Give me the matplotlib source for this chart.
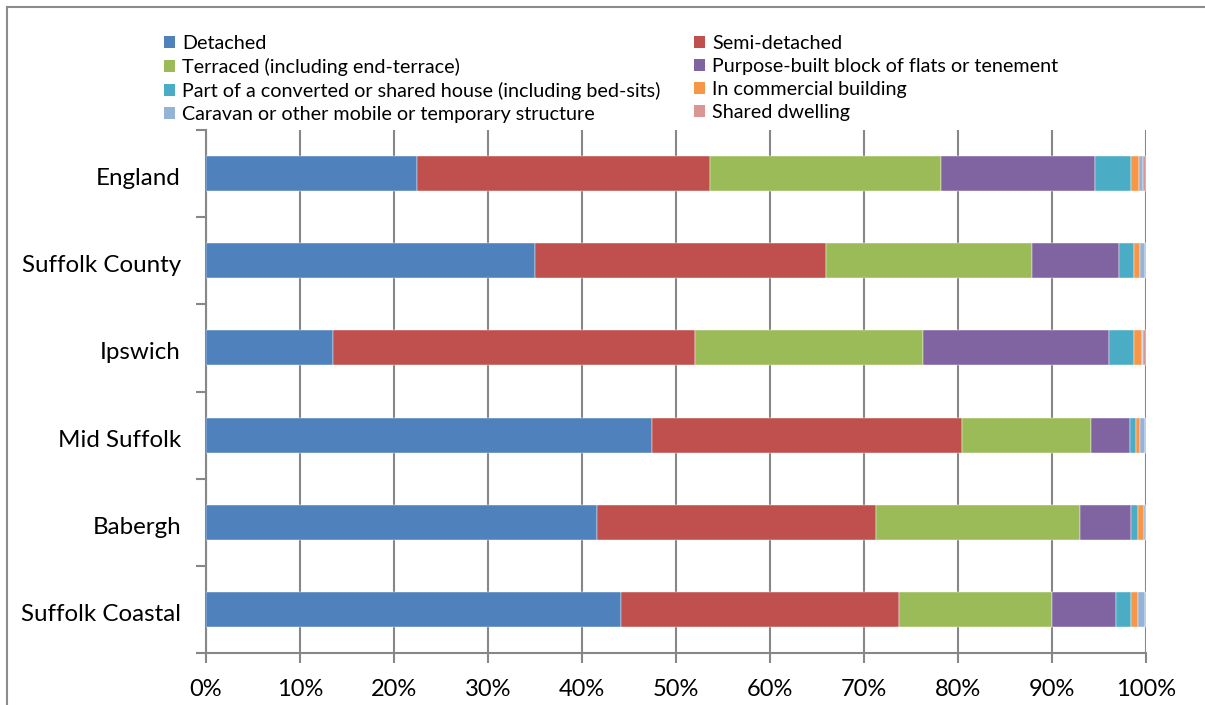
import matplotlib
matplotlib.use("Agg")
import matplotlib.pyplot as plt
import matplotlib.transforms as mtrans
from matplotlib.patches import Patch
from matplotlib.lines import Line2D
import numpy as np

plt.rcParams['font.family'] = ['Lato', 'DejaVu Sans']

areas = ["England", "Suffolk County", "Ipswich", "Mid Suffolk", "Babergh", "Suffolk Coastal"]
types = ["Detached", "Semi-detached", "Terraced (including end-terrace)",
         "Purpose-built block of flats or tenement",
         "Part of a converted or shared house (including bed-sits)",
         "In commercial building",
         "Caravan or other mobile or temporary structure",
         "Shared dwelling"]

# share of households (%) by accommodation type, one list per area
england         = [22.4, 31.2, 24.6, 16.4, 3.8, 0.9, 0.4, 0.3]
suffolk_county  = [35.0, 31.0, 21.9, 9.2, 1.6, 0.7, 0.5, 0.1]
ipswich         = [13.5, 38.5, 24.3, 19.8, 2.6, 0.9, 0.1, 0.3]
mid_suffolk     = [47.4, 33.0, 13.7, 4.2, 0.6, 0.5, 0.5, 0.1]
babergh         = [41.6, 29.7, 21.7, 5.4, 0.7, 0.7, 0.15, 0.05]
suffolk_coastal = [44.1, 29.6, 16.3, 6.8, 1.6, 0.7, 0.8, 0.1]

colors = ["#4F81BD", "#C0504D", "#9BBB59", "#8064A2",
          "#4BACC6", "#F79646", "#95B3D7", "#D99694"]

data = np.array([england, suffolk_county, ipswich, mid_suffolk, babergh, suffolk_coastal])
data = data / data.sum(axis=1, keepdims=True) * 100

fig = plt.figure(figsize=(12.05, 7.05), dpi=100)
ax = fig.add_axes([206/1205, 1-653/705, 940/1205, 523/705])

ypos = np.arange(len(areas))
left = np.zeros(len(areas))
for i in range(len(types)):
    ax.barh(ypos, data[:, i], left=left, height=0.4, color=colors[i],
            edgecolor="#ffffff", linewidth=0.3, zorder=3)
    left += data[:, i]

grid_c = "#878787"
ax.set_xlim(0, 100)
ax.set_ylim(len(areas) - 0.5, -0.5)
ax.set_xticks(np.arange(0, 101, 10))
ax.set_xticklabels(["%d%%" % v for v in range(0, 101, 10)], fontsize=17)
ax.xaxis.grid(True, color=grid_c, linewidth=1.5, zorder=0)
ax.set_yticks(ypos)
ax.set_yticklabels(areas, fontsize=17.4, va="center_baseline")
ax.set_yticks(np.arange(-0.5, len(areas)), minor=True)
ax.tick_params(axis="y", which="major", length=0, pad=18)
ax.tick_params(axis="y", which="minor", length=7, width=1.5, color=grid_c)
ax.tick_params(axis="x", length=7, width=1.5, color=grid_c, pad=12)
# nudge the area names down a little
shift = mtrans.ScaledTranslation(0, -3/100, fig.dpi_scale_trans)
for lbl in ax.get_yticklabels():
    lbl.set_transform(lbl.get_transform() + shift)
for s in ["top", "right"]:
    ax.spines[s].set_visible(False)
for s in ["left", "bottom"]:
    ax.spines[s].set_color(grid_c)
    ax.spines[s].set_linewidth(1.5)

# legend in two columns, placed separately so each column starts at a fixed spot
handles = [Patch(facecolor=c) for c in colors]
col1 = [0, 2, 4, 6]
col2 = [1, 3, 5, 7]
kw = dict(frameon=False, fontsize=14.2, handlelength=0.58, handleheight=0.58,
          handletextpad=0.35, labelspacing=0.30, borderpad=0, borderaxespad=0,
          loc="upper left", bbox_transform=fig.transFigure)
leg1 = ax.legend([handles[i] for i in col1], [types[i] for i in col1],
                 bbox_to_anchor=(164/1205, 1-35/705), **kw)
ax.add_artist(leg1)
ax.legend([handles[i] for i in col2], [types[i] for i in col2],
          bbox_to_anchor=(694/1205, 1-35/705), **kw)

# outer chart frame
fig.add_artist(Line2D([7/1205, 7/1205], [0, 1-7/705], color="#8c8c8c", linewidth=1.5))
fig.add_artist(Line2D([7/1205, 1], [1-7/705, 1-7/705], color="#8c8c8c", linewidth=1.5))

fig.savefig("out.png", dpi=100)
